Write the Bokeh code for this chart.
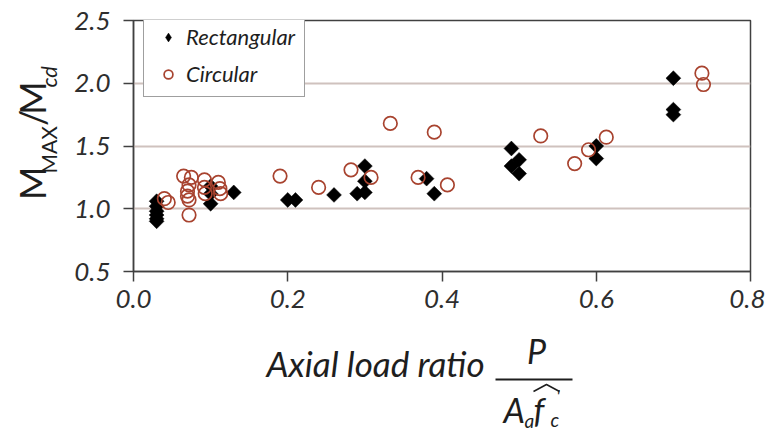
import math
from bokeh.plotting import figure
from bokeh.layouts import row, column
from bokeh.models import (Label, Legend, LegendItem, FixedTicker, Range1d,
                          NumeralTickFormatter)
from bokeh.embed import file_html
from bokeh.resources import INLINE

# ---- data ----
rect_x = [0.03, 0.03, 0.03, 0.03, 0.03, 0.03,
          0.10, 0.10, 0.10, 0.13, 0.20, 0.21, 0.26,
          0.29, 0.30, 0.30, 0.30, 0.38, 0.39,
          0.49, 0.50, 0.49, 0.50, 0.60, 0.60,
          0.70, 0.70, 0.70]
rect_y = [1.06, 1.02, 0.98, 0.95, 0.92, 0.90,
          1.18, 1.12, 1.04, 1.13, 1.07, 1.07, 1.11,
          1.12, 1.13, 1.22, 1.34, 1.24, 1.12,
          1.48, 1.39, 1.34, 1.28, 1.50, 1.40,
          2.04, 1.79, 1.75]

circ_x = [0.040, 0.045, 0.065, 0.075, 0.072, 0.070, 0.070, 0.072, 0.072,
          0.092, 0.092, 0.093, 0.110, 0.112, 0.113, 0.190, 0.240, 0.282,
          0.308, 0.333, 0.369, 0.390, 0.407, 0.528, 0.572, 0.590, 0.613,
          0.737, 0.739]
circ_y = [1.08, 1.05, 1.26, 1.25, 1.19, 1.14, 1.10, 1.07, 0.95,
          1.23, 1.17, 1.12, 1.21, 1.16, 1.12, 1.26, 1.17, 1.31,
          1.25, 1.68, 1.25, 1.61, 1.19, 1.58, 1.36, 1.47, 1.57,
          2.08, 1.99]

x_ticks = [0.0, 0.2, 0.4, 0.6, 0.8]
y_ticks = [0.5, 1.0, 1.5, 2.0, 2.5]
grid_lines = [1.0, 1.5, 2.0]
series_names = ["Rectangular", "Circular"]

FONT = "Lato"
DARK = "#2e2e2e"
LINE = "#404040"
RED = "#a8432f"
TXT = "#1e1e1e"

# ---------------- main plot ----------------
p = figure(width=695, height=330, output_backend="svg", toolbar_location=None,
           x_range=Range1d(0.0, 0.8), y_range=Range1d(0.5, 2.5),
           min_border_left=63, min_border_right=15, min_border_top=20,
           min_border_bottom=59)
p.background_fill_color = "white"
p.border_fill_color = "white"
p.outline_line_color = LINE
p.outline_line_width = 1.5

for ax in (p.xaxis[0], p.yaxis[0]):
    ax.axis_line_color = LINE
    ax.axis_line_width = 1.5
    ax.major_tick_line_color = LINE
    ax.major_tick_line_width = 1.5
    ax.major_tick_in = 0
    ax.major_tick_out = 10
    ax.minor_tick_line_color = None
    ax.major_label_text_font = FONT
    ax.major_label_text_font_style = "italic"
    ax.major_label_text_font_size = "26px"
    ax.major_label_text_color = DARK
    ax.formatter = NumeralTickFormatter(format="0.0")

p.xaxis[0].ticker = FixedTicker(ticks=x_ticks)
p.yaxis[0].ticker = FixedTicker(ticks=y_ticks)
p.xaxis[0].major_label_standoff = 8
p.yaxis[0].major_label_standoff = 13

p.xgrid.visible = False
p.ygrid.ticker = FixedTicker(ticks=grid_lines)
p.ygrid.grid_line_color = "#cfc2be"
p.ygrid.grid_line_width = 2

r_rect = p.scatter(rect_x, rect_y, marker="square", angle=math.pi / 4, size=10.5,
                   fill_color="black", line_color="black", line_width=0.5)
r_circ = p.scatter(circ_x, circ_y, marker="circle", size=13.5,
                   fill_color=None, line_color=RED, line_width=1.7)
# legend swatch for the diamonds (legend glyphs are drawn unrotated); not plotted
r_rect_leg = p.scatter([float("nan")], [float("nan")], marker="diamond", size=14,
                       fill_color="black", line_color="black", line_width=0.5)

legend = Legend(items=[LegendItem(label=series_names[0], renderers=[r_rect_leg]),
                       LegendItem(label=series_names[1], renderers=[r_circ])],
                location=(10, 174), padding=9, spacing=10,
                label_text_font=FONT, label_text_font_style="italic",
                label_text_font_size="22px", label_text_color=TXT,
                label_height=22, glyph_height=22, glyph_width=30, label_standoff=3,
                border_line_color=LINE, border_line_width=1.5,
                background_fill_alpha=1.0)
p.add_layout(legend)

# ---------------- helpers for the title panels ----------------
def title_fig(w, h):
    f = figure(width=w, height=h, output_backend="svg", toolbar_location=None,
               x_range=Range1d(0, w), y_range=Range1d(h, 0),
               x_axis_type=None, y_axis_type=None, min_border=0)
    f.grid.visible = False
    f.outline_line_color = None
    f.background_fill_color = "white"
    f.border_fill_color = "white"
    return f

def lab(f, text, x, y, size, style="italic", angle=0.0, align="left"):
    f.add_layout(Label(x=x, y=y, text=text, text_font=FONT,
                       text_font_style=style, text_font_size=size,
                       text_color=TXT, angle=angle, text_align=align,
                       text_baseline="middle"))

# ---------------- y title (rotated, centre-anchored pieces) ----------------
yt = title_fig(70, 330)
A90 = math.pi / 2
lab(yt, "M", 31, 214, "36px", style="normal", angle=A90, align="center")
lab(yt, "MAX", 48, 170, "21px", style="normal", angle=A90, align="center")
lab(yt, "/", 31, 128, "36px", style="normal", angle=A90, align="center")
lab(yt, "M", 31, 102, "36px", style="normal", angle=A90, align="center")
lab(yt, "cd", 48, 74, "22px", angle=A90, align="center")

# ---------------- x title ----------------
xt = title_fig(765, 102)
# page y = 330 + y ; labels are anchored at their vertical middle
lab(xt, "Axial load ratio", 266, 32, "35px")
xt.segment(x0=[495], y0=[49], x1=[572], y1=[49], line_color=TXT, line_width=1.8)
lab(xt, "P", 536, 20, "34px", align="center")
lab(xt, "A", 503, 79, "34px")
lab(xt, "a", 524, 90, "19px")
lab(xt, "f", 533, 79, "34px")
xt.line(x=[533, 546, 559], y=[61, 54, 61], line_color=TXT, line_width=1.5)
lab(xt, "'", 556, 66, "17px")
lab(xt, "c", 550, 89, "19px")

layout = column(row(yt, p), xt)
open("out.html", "w").write(file_html(layout, INLINE))
